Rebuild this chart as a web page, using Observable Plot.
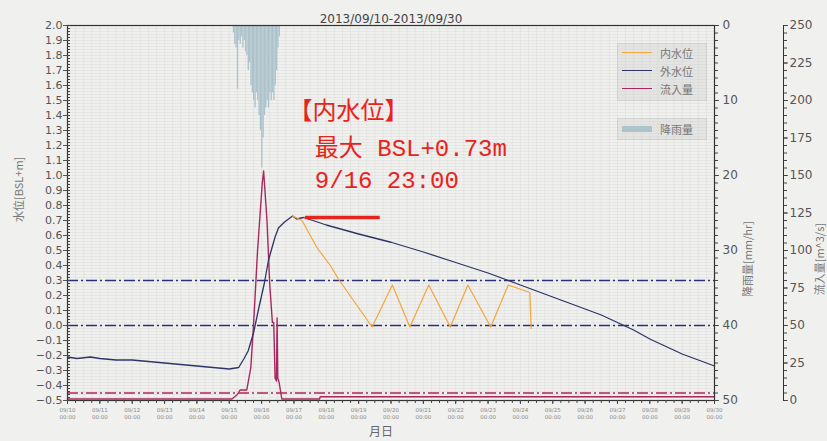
<!DOCTYPE html>
<html><head><meta charset="utf-8">
<script src="https://cdn.jsdelivr.net/npm/d3@7"></script>
<script src="https://cdn.jsdelivr.net/npm/@observablehq/plot@0.6"></script>
<style>
body{margin:0;background:#f0f0ee;}
#wrap{position:relative;width:827px;height:441px;}
.lg{position:absolute;background:rgba(205,205,205,0.35);border:1px solid rgba(200,200,200,0.6);font-family:"Noto Sans CJK JP",sans-serif;font-size:11px;color:#777;}
.row{position:absolute;left:0;height:14px;line-height:14px;}
.sw{position:absolute;left:4px;width:30px;}
.tx{position:absolute;left:42px;white-space:nowrap;}
</style></head>
<body><div id="wrap"></div>
<script>
// ---- data ----
const title = "2013/09/10-2013/09/30";
const outerTimes = ["09/10 00:00","09/10 07:00","09/10 17:00","09/11 00:00","09/11 12:00","09/12 00:00","09/12 12:00","09/13 00:00","09/13 12:00","09/14 00:00","09/14 12:00","09/15 00:00","09/15 07:00","09/15 11:00","09/15 14:00","09/15 18:00","09/15 22:00","09/16 02:00","09/16 05:00","09/16 06:30","09/16 10:00","09/16 12:30","09/16 17:00","09/16 20:00","09/16 23:00","09/17 02:00","09/17 07:00","09/17 14:00","09/18 00:00","09/19 00:00","09/20 00:00","09/21 00:00","09/22 00:00","09/23 00:00","09/24 00:00","09/25 00:00","09/26 00:00","09/26 12:00","09/27 00:00","09/27 12:00","09/28 00:00","09/28 12:00","09/29 00:00","09/29 12:00","09/30 00:00"];
const outerLevels = [-0.21,-0.22,-0.21,-0.22,-0.23,-0.23,-0.24,-0.25,-0.26,-0.27,-0.28,-0.29,-0.28,-0.22,-0.17,-0.05,0.12,0.28,0.43,0.48,0.59,0.65,0.69,0.71,0.73,0.71,0.72,0.70,0.67,0.61,0.555,0.49,0.42,0.35,0.27,0.19,0.11,0.07,0.02,-0.03,-0.09,-0.14,-0.19,-0.23,-0.27];
const innerTimes = ["09/16 23:00","09/17 06:00","09/17 17:00","09/18 03:00","09/18 09:00","09/19 10:00","09/20 01:00","09/20 14:00","09/21 04:00","09/21 20:00","09/22 09:00","09/23 02:00","09/23 15:00","09/24 07:00","09/24 08:00"];
const innerLevels = [0.73,0.70,0.52,0.40,0.31,-0.01,0.27,-0.01,0.27,-0.01,0.27,-0.01,0.27,0.22,-0.02];
const flowTimes = ["09/10 00:00","09/15 02:00","09/15 06:00","09/15 08:00","09/15 13:00","09/15 16:00","09/15 18:00","09/15 21:00","09/16 00:30","09/16 01:30","09/16 04:00","09/16 06:00","09/16 08:00","09/16 09:00","09/16 10:00","09/16 11:00","09/16 11:30","09/16 12:00","09/16 13:00","09/16 15:00","09/17 19:00","09/17 19:30","09/30 00:00"];
const flowValues = [1,1,4,7,7,22,50,100,145,153,120,78,52,52,15,13,55,15,12,1,1,2.5,2.5];
const rainStart = "09/15 03:00";
const rainHourly = [1,2.5,3,8.5,2,2.5,1.5,3,2,3.5,4,6,5,8,9,10,11,9,10,12,14,19,15,12,11,10,11,9,10,9,10,8,6,3,1.5];
const levelRefs = [0.3, 0.0];
const flowRef = [-0.45];
const peakBar = {from: "09/17 08:30", to: "09/19 16:00", level: 0.72};
const noteLines = ["【内水位】", "最大 BSL+0.73m", "9/16 23:00"];
const noteTimes = ["09/16 20:00", "09/17 15:30", "09/17 15:30"];
const noteLevels = [1.43, 1.18, 0.97];
const levelTicks = d3.range(-5, 21).map(i => i / 10);
const rainTicks = [0, 10, 20, 30, 40, 50];
const flowTicks = [0, 25, 50, 75, 100, 125, 150, 175, 200, 225, 250];
const legendNames = ["内水位", "外水位", "流入量", "降雨量"];

// ---- helpers ----
const parse = d3.utcParse("%Y/%m/%d %H:%M");
const T = s => parse("2013/" + s);
const start = T("09/10 00:00"), end = T("09/30 00:00");
const rainToY = r => 2.0 - r * 0.05;     // 0 mm/hr at top, 50 at bottom
const yToRain = y => Math.round((2.0 - y) / 0.05);
const flowToY = f => -0.5 + f * 0.01;    // 0 m3/s at bottom, 250 at top
const yToFlow = y => Math.round((y + 0.5) * 100);

const outer = outerTimes.map((t, i) => ({t: T(t), v: outerLevels[i]}));
const inner = innerTimes.map((t, i) => ({t: T(t), v: innerLevels[i]}));
const flow = flowTimes.map((t, i) => ({t: T(t), v: flowToY(flowValues[i])}));
const r0 = T(rainStart);
const rain = rainHourly.map((r, i) => ({t1: d3.utcHour.offset(r0, i), t2: d3.utcHour.offset(r0, i + 1), y1: 2.0, y2: rainToY(r)}));
const notes = noteLines.map((s, i) => ({s, t: T(noteTimes[i]), v: noteLevels[i]}));

const navy = "#2e3566", orange = "#f4a53a", crimson = "#a8285e", rainC = "#adc3cb", red = "#e8231b";
const FF = "DejaVu Sans, Noto Sans CJK JP, sans-serif";
const CJK = "Noto Sans CJK JP, sans-serif";
const MONO = "Liberation Mono, Noto Sans CJK JP, monospace";

const plot = Plot.plot({
  width: 827, height: 441,
  marginLeft: 67, marginRight: 113, marginTop: 25, marginBottom: 41,
  style: {background: "transparent", fontFamily: FF, color: "#555"},
  x: {type: "utc", domain: [start, end]},
  y: {domain: [-0.5, 2.0]},
  marks: [
    Plot.gridY(d3.range(-25, 101).map(i => i / 50), {stroke: "#bbb", strokeOpacity: 0.18}),
    Plot.gridX(d3.utcHour.every(6).range(start, end), {stroke: "#bbb", strokeOpacity: 0.18}),
    Plot.rect(rain, {x1: "t1", x2: "t2", y1: "y1", y2: "y2", fill: rainC, inset: 0}),
    Plot.ruleY(levelRefs, {stroke: "#28307a", strokeWidth: 1.6, strokeDasharray: "11,3,2,3"}),
    Plot.ruleY(flowRef, {stroke: "#b3245a", strokeWidth: 1.6, strokeDasharray: "11,3,2,3"}),
    Plot.line(flow, {x: "t", y: "v", stroke: crimson, strokeWidth: 1.4}),
    Plot.line(outer, {x: "t", y: "v", stroke: navy, strokeWidth: 1.3}),
    Plot.line(inner, {x: "t", y: "v", stroke: orange, strokeWidth: 1.2}),
    Plot.ruleY([peakBar], {x1: d => T(d.from), x2: d => T(d.to), y: "level", stroke: red, strokeWidth: 3.5}),
    Plot.text(notes, {x: "t", y: "v", text: "s", textAnchor: "start", lineAnchor: "middle", fill: red, fontSize: 24, fontFamily: MONO}),
    Plot.frame({stroke: "#333", strokeWidth: 1.2}),
    // left axis
    Plot.axisY(levelTicks, {anchor: "left", tickFormat: d3.format(".1f"), tickSize: 4, tickPadding: 1, fontSize: 11, label: null, color: "#555"}),
    Plot.axisY(d3.range(-25, 101).map(i => i / 50), {anchor: "left", tickSize: -3, tickFormat: () => "", label: null, stroke: "#444"}),
    // rain axis
    Plot.axisY(rainTicks.map(rainToY), {anchor: "right", tickFormat: yToRain, tickSize: 4, tickPadding: 4, fontSize: 12, label: null, color: "#555"}),
    Plot.axisY(d3.range(0, 51).map(rainToY), {anchor: "right", tickSize: 3, tickFormat: () => "", label: null, stroke: "#444"}),
    // flow axis (offset)
    Plot.frame({anchor: "right", dx: 69, stroke: "#333"}),
    Plot.axisY(flowTicks.map(flowToY), {anchor: "right", dx: 69, tickFormat: yToFlow, tickSize: 4, tickPadding: 2, fontSize: 12, label: null, color: "#555"}),
    Plot.axisY(d3.range(0, 251, 5).map(flowToY), {anchor: "right", dx: 69, tickSize: 3, tickFormat: () => "", label: null, stroke: "#444"}),
    // x axis
    Plot.axisX(d3.utcDay.range(start, d3.utcDay.offset(end, 1)), {tickSize: 4, tickPadding: 2, tickFormat: d => d3.utcFormat("%m/%d")(d) + "\n" + d3.utcFormat("%H:%M")(d), fontSize: 5.5, lineHeight: 1.3, label: null, color: "#888", stroke: "#444"}),
    Plot.axisX(d3.utcHour.every(6).range(start, end), {tickSize: 3, tickFormat: () => "", label: null, stroke: "#444"}),
    // labels & title
    Plot.text([title], {frameAnchor: "top", dy: -11, fontSize: 12, fill: "#444"}),
    Plot.text(["月日"], {frameAnchor: "bottom", dx: -10, dy: 35, fontSize: 12, fill: "#666", fontFamily: CJK}),
    Plot.text(["水位[BSL+m]"], {frameAnchor: "left", dx: -48, dy: 9, rotate: -90, fontSize: 11, fill: "#777", fontFamily: CJK}),
    Plot.text(["降雨量[mm/hr]"], {frameAnchor: "right", dx: 34, dy: 8, rotate: -90, fontSize: 11, fill: "#777", fontFamily: CJK}),
    Plot.text(["流入量[m^3/s]"], {frameAnchor: "right", dx: 106, dy: 10, rotate: -90, fontSize: 11, fill: "#777", fontFamily: CJK})
  ]
});
const wrap = document.getElementById("wrap");
wrap.appendChild(plot);

// legend
const lg1 = document.createElement("div");
lg1.className = "lg";
Object.assign(lg1.style, {left: "617px", top: "43px", width: "88px", height: "56px"});
const lineCols = [orange, navy, crimson];
for (let i = 0; i < 3; i++) {
  const r = document.createElement("div");
  r.className = "row"; r.style.top = (2 + i * 18) + "px"; r.style.width = "88px";
  r.innerHTML = `<div class="sw" style="top:6px;height:0;border-top:1.5px solid ${lineCols[i]}"></div><div class="tx">${legendNames[i]}</div>`;
  lg1.appendChild(r);
}
wrap.appendChild(lg1);
const lg2 = document.createElement("div");
lg2.className = "lg";
Object.assign(lg2.style, {left: "617px", top: "118px", width: "88px", height: "20px"});
lg2.innerHTML = `<div class="row" style="top:3px;width:88px"><div class="sw" style="top:4px;height:6px;background:${rainC}"></div><div class="tx">${legendNames[3]}</div></div>`;
wrap.appendChild(lg2);
</script></body></html>
